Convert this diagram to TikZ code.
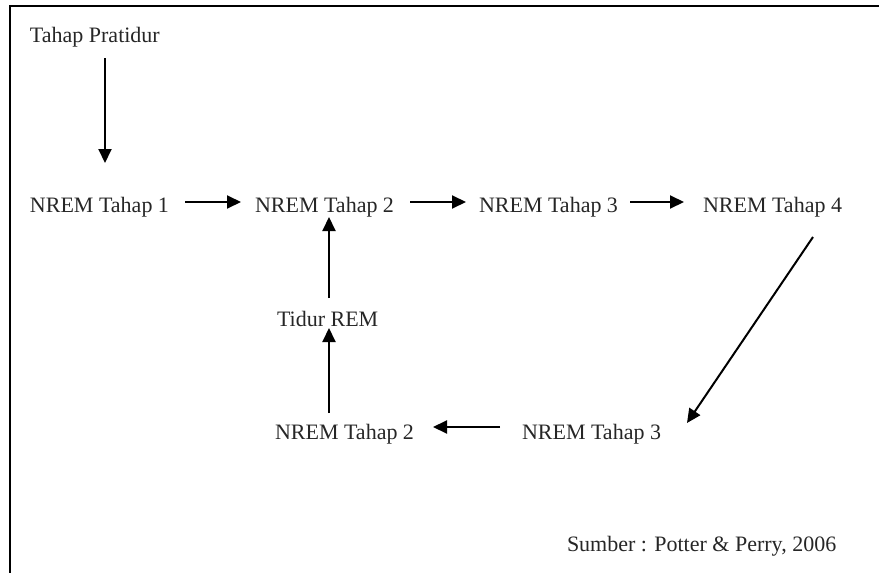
\documentclass[tikz,border=0pt]{standalone}
\usepackage{fontspec}
\setmainfont{Liberation Serif}
\usetikzlibrary{arrows.meta,calc}
\begin{document}
\begin{tikzpicture}[x=1pt,y=-1pt,
  lbl/.style={anchor=base west,inner sep=0pt,outer sep=0pt,font=\fontsize{22}{26}\selectfont,text=black!85},
  arr/.style={line width=2pt,-{Triangle[length=14pt,width=13pt]}},
  frame/.style={line width=2pt}]
\useasboundingbox (0,0) rectangle (879,573);
\draw[frame] (10,573) -- (10,6) -- (879,6);
\node[lbl] (pre) at (30,42) {Tahap Pratidur};
\node[lbl] (n1) at (30,212.7) {NREM Tahap 1};
\node[lbl] (n2) at (255,212.7) {NREM Tahap 2};
\node[lbl] (n3) at (479,212.7) {NREM Tahap 3};
\node[lbl] (n4) at (703,212.7) {NREM Tahap 4};
\node[lbl] (rem) at (277,326.7) {Tidur REM};
\node[lbl] (b2) at (275,439.3) {NREM Tahap 2};
\node[lbl] (b3) at (522,439.3) {NREM Tahap 3};
\node[lbl] (src) at (567,551.7) {Sumber : Potter \& Perry, 2006};
\draw[arr] ($(pre.base west)+(75,16)$) -- ($(n1.base west)+(75,-49.7)$);
\draw[arr] ($(n1.base west)+(155,-10.7)$) -- ($(n2.base west)+(-14,-10.7)$);
\draw[arr] ($(n2.base west)+(155,-10.7)$) -- ($(n3.base west)+(-13,-10.7)$);
\draw[arr] ($(n3.base west)+(151,-10.7)$) -- ($(n4.base west)+(-19,-10.7)$);
\draw[arr] ($(n4.base west)+(110,24.3)$) -- ($(b3.base west)+(165,-16.3)$);
\draw[arr] ($(b3.base west)+(-22,-12.3)$) -- ($(b2.base west)+(158,-12.3)$);
\draw[arr] ($(b2.base west)+(54,-26.3)$) -- ($(rem.base west)+(52,1.3)$);
\draw[arr] ($(rem.base west)+(52,-28.7)$) -- ($(n2.base west)+(74,4.3)$);
\end{tikzpicture}
\end{document}
